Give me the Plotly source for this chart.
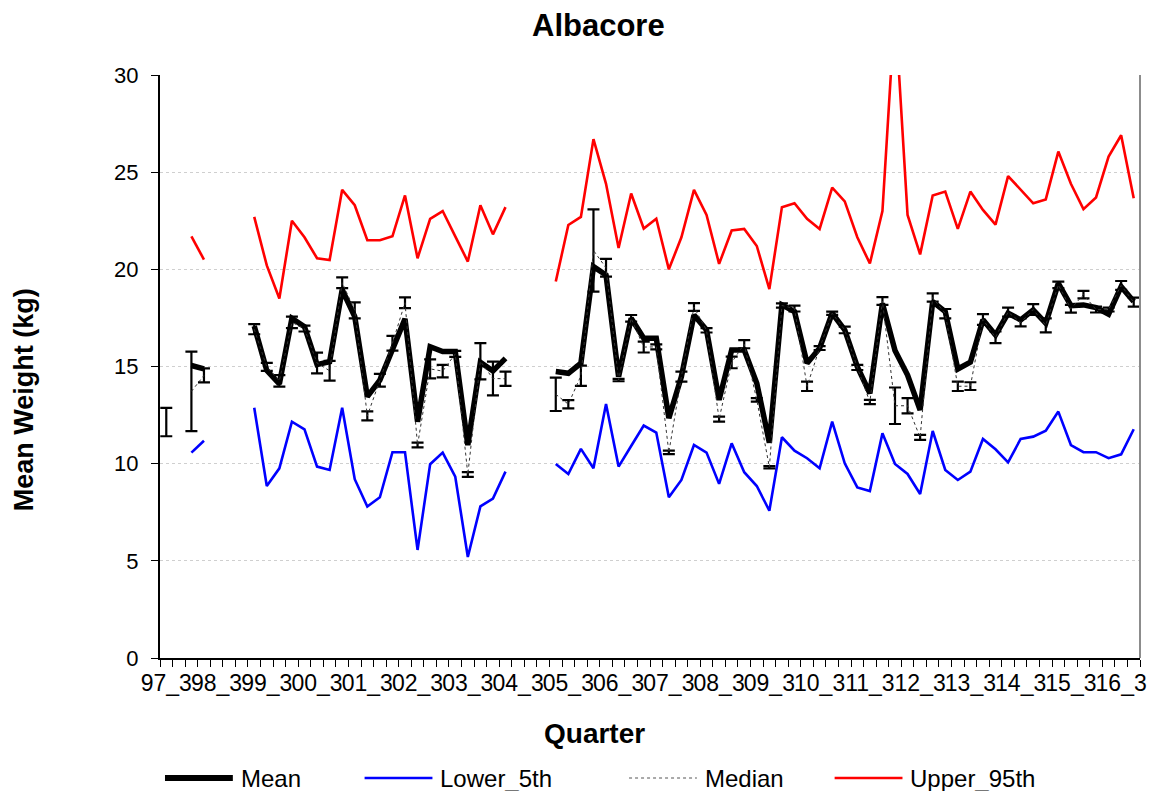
import plotly.graph_objects as go

# Quarterly categories, 1997 Q3 .. 2016 Q4
quarters = [
    "1997_3", "1997_4",
    "1998_1", "1998_2", "1998_3", "1998_4",
    "1999_1", "1999_2", "1999_3", "1999_4",
    "2000_1", "2000_2", "2000_3", "2000_4",
    "2001_1", "2001_2", "2001_3", "2001_4",
    "2002_1", "2002_2", "2002_3", "2002_4",
    "2003_1", "2003_2", "2003_3", "2003_4",
    "2004_1", "2004_2", "2004_3", "2004_4",
    "2005_1", "2005_2", "2005_3", "2005_4",
    "2006_1", "2006_2", "2006_3", "2006_4",
    "2007_1", "2007_2", "2007_3", "2007_4",
    "2008_1", "2008_2", "2008_3", "2008_4",
    "2009_1", "2009_2", "2009_3", "2009_4",
    "2010_1", "2010_2", "2010_3", "2010_4",
    "2011_1", "2011_2", "2011_3", "2011_4",
    "2012_1", "2012_2", "2012_3", "2012_4",
    "2013_1", "2013_2", "2013_3", "2013_4",
    "2014_1", "2014_2", "2014_3", "2014_4",
    "2015_1", "2015_2", "2015_3", "2015_4",
    "2016_1", "2016_2", "2016_3", "2016_4",
]

# Axis labels shown for each third quarter
tick_quarters = ["1997_3", "1998_3", "1999_3", "2000_3", "2001_3", "2002_3", "2003_3",
                 "2004_3", "2005_3", "2006_3", "2007_3", "2008_3", "2009_3", "2010_3",
                 "2011_3", "2012_3", "2013_3", "2014_3", "2015_3", "2016_3"]
tick_labels = ["97_3", "98_3", "99_3", "00_3", "01_3", "02_3", "03_3",
               "04_3", "05_3", "06_3", "07_3", "08_3", "09_3", "10_3",
               "11_3", "12_3", "13_3", "14_3", "15_3", "16_3"]

N = None

mean_kg = [
    N, N, 15.05, 14.88, N, N, N, 17.08, 14.8, 14.1,
    17.48, 17.05, 15.1, 15.25, 18.95, 17.57, 13.45, 14.3, 15.85, 17.45,
    12.16, 16.02, 15.77, 15.77, 10.96, 15.22, 14.77, 15.42, N, N,
    N, 14.74, 14.65, 15.17, 20.14, 19.71, 14.48, 17.48, 16.45, 16.45,
    12.34, 14.48, 17.65, 16.88, 13.28, 15.85, 15.85, 14.14, 11.08, 18.17,
    17.82, 15.17, 15.94, 17.74, 16.88, 14.99, 13.62, 18.25, 15.82, 14.56,
    12.76, 18.34, 17.82, 14.87, 15.22, 17.4, 16.62, 17.74, 17.4, 17.91,
    17.23, 19.28, 18.13, 18.17, 18.03, 17.69, 19.11, 18.34,
]

median_kg = [
    12.14, N, 13.72, 14.54, N, N, N, 16.92, 14.98, 14.26,
    17.27, 16.95, 15.18, 14.78, 19.31, 17.89, 12.46, 14.29, 16.2, 18.28,
    10.96, 14.88, 14.76, 15.65, 9.44, 15.27, 14.38, 14.37, N, N,
    N, 13.57, 13.06, 14.52, 20.97, 20.08, 14.3, 17.48, 16.0, 16.01,
    10.58, 14.48, 18.06, 16.86, 12.29, 15.21, 16.15, 13.28, 9.82, 18.14,
    17.98, 13.98, 15.95, 17.74, 16.88, 14.95, 13.17, 18.37, 12.98, 12.98,
    11.35, 18.55, 17.72, 13.98, 13.99, 17.42, 16.5, 17.8, 17.27, 17.93,
    17.12, 19.2, 17.97, 18.7, 17.93, 17.93, 19.17, 18.31,
]

median_err = [
    0.73, N, 2.05, 0.36, N, N, N, 0.26, 0.21, 0.3,
    0.3, 0.15, 0.53, 0.51, 0.28, 0.41, 0.23, 0.33, 0.38, 0.28,
    0.12, 0.49, 0.32, 0.15, 0.12, 0.93, 0.87, 0.37, N, N,
    N, 0.86, 0.21, 0.52, 2.12, 0.46, 0.06, 0.17, 0.28, 0.13,
    0.09, 0.26, 0.2, 0.11, 0.13, 0.3, 0.21, 0.09, 0.06, 0.11,
    0.15, 0.24, 0.1, 0.08, 0.17, 0.13, 0.11, 0.2, 0.94, 0.39,
    0.13, 0.21, 0.24, 0.24, 0.2, 0.28, 0.3, 0.23, 0.21, 0.28,
    0.36, 0.17, 0.2, 0.19, 0.15, 0.1, 0.23, 0.23,
]

lower_5th = [
    N, N, 10.57, 11.18, N, N, N, 12.88, 8.85, 9.76,
    12.16, 11.77, 9.85, 9.68, 12.88, 9.2, 7.79, 8.27, 10.59, 10.59,
    5.56, 9.97, 10.57, 9.33, 5.2, 7.8, 8.2, 9.59, N, N,
    N, 9.98, 9.47, 10.76, 9.76, 13.07, 9.85, 10.91, 11.96, 11.6,
    8.27, 9.16, 10.96, 10.57, 8.96, 11.05, 9.56, 8.85, 7.58, 11.36,
    10.67, 10.28, 9.76, 12.16, 10.02, 8.78, 8.59, 11.56, 9.98, 9.47,
    8.44, 11.68, 9.68, 9.16, 9.59, 11.27, 10.74, 10.07, 11.27, 11.39,
    11.7, 12.68, 10.96, 10.59, 10.59, 10.28, 10.48, 11.77,
]

upper_95th = [
    N, N, 21.7, 20.5, N, N, N, 22.7, 20.2, 18.5,
    22.5, 21.65, 20.57, 20.48, 24.09, 23.3, 21.5, 21.5, 21.7, 23.8,
    20.57, 22.6, 23.0, 21.7, 20.4, 23.3, 21.8, 23.2, N, N,
    N, 19.37, 22.28, 22.7, 26.7, 24.4, 21.1, 23.9, 22.1, 22.6,
    20.0, 21.65, 24.09, 22.8, 20.28, 22.0, 22.08, 21.2, 18.98, 23.2,
    23.4, 22.6, 22.08, 24.2, 23.5, 21.65, 20.3, 23.0, 33.5, 22.8,
    20.77, 23.8, 24.0, 22.08, 24.0, 23.06, 22.3, 24.8, 24.1, 23.4,
    23.6, 26.06, 24.4, 23.1, 23.7, 25.8, 26.9, 23.66,
]

FONT = "Liberation Sans, Arial, sans-serif"

fig = go.Figure()

fig.add_trace(go.Scatter(x=quarters, y=lower_5th, mode="lines", name="Lower_5th",
                         line=dict(color="#0000FF", width=2.6), showlegend=False))
fig.add_trace(go.Scatter(x=quarters, y=upper_95th, mode="lines", name="Upper_95th",
                         line=dict(color="#FF0000", width=2.6), showlegend=False))
fig.add_trace(go.Scatter(x=quarters, y=mean_kg, mode="lines", name="Mean",
                         line=dict(color="#000000", width=5.5), showlegend=False))
fig.add_trace(go.Scatter(
    x=quarters, y=median_kg, mode="lines", name="Median",
    line=dict(color="#333333", width=1, dash="dot"), showlegend=False,
    error_y=dict(type="data", array=median_err, symmetric=True,
                 color="#000000", thickness=2.2, width=6),
))

# Axis tick labels only on the third quarter of each year
tickvals = quarters
ticktext = [tick_labels[tick_quarters.index(q)] if q in tick_quarters else "" for q in quarters]

L, R, T, B = 160, 17, 75, 133
W, H = 1159, 791
PW, PH = W - L - R, H - T - B


def px_x(px):
    return (px - L) / PW


def px_y(py):
    return (H - B - py) / PH


fig.update_layout(
    width=W, height=H,
    margin=dict(l=L, r=R, t=T, b=B),
    plot_bgcolor="white", paper_bgcolor="white",
    font=dict(family=FONT, color="black"),
    xaxis=dict(
        type="category", categoryorder="array", categoryarray=quarters,
        range=[-0.5, len(quarters) - 0.5],
        tickmode="array", tickvals=tickvals, ticktext=ticktext,
        tickson="boundaries", ticks="outside", ticklen=7, tickwidth=1.2,
        tickcolor="black", showline=True, linecolor="black", linewidth=2,
        showgrid=False, tickfont=dict(size=23, family=FONT), tickangle=0,
        ticklabelstandoff=3,
    ),
    yaxis=dict(
        range=[0, 30], dtick=5, tick0=0,
        ticks="outside", ticklen=7, tickwidth=1.2, tickcolor="black",
        showline=True, linecolor="black", linewidth=2,
        showgrid=True, gridcolor="#cfcfcf", griddash="dot", gridwidth=1,
        zeroline=False, tickfont=dict(size=22, family=FONT),
        ticklabelstandoff=8,
    ),
    showlegend=False,
)

# Right edge of the plot area
fig.add_shape(type="line", xref="paper", yref="paper", x0=1, x1=1, y0=0, y1=1,
              line=dict(color="#8c8c8c", width=2))

# Titles
fig.add_annotation(text="<b>Albacore</b>", xref="paper", yref="paper",
                   x=px_x(599), y=px_y(25), showarrow=False,
                   font=dict(size=31, family=FONT), xanchor="center", yanchor="middle")
fig.add_annotation(text="<b>Quarter</b>", xref="paper", yref="paper",
                   x=px_x(595), y=px_y(733), showarrow=False,
                   font=dict(size=28, family=FONT), xanchor="center", yanchor="middle")
fig.add_annotation(text="<b>Mean Weight (kg)</b>", xref="paper", yref="paper",
                   x=px_x(24), y=px_y(400), showarrow=False, textangle=-90,
                   font=dict(size=27, family=FONT), xanchor="center", yanchor="middle")

# Legend row
legend_items = [
    ("Mean", 165, dict(color="#000000", width=6)),
    ("Lower_5th", 365, dict(color="#0000FF", width=2.6)),
    ("Median", 630, dict(color="#555555", width=1, dash="dot")),
    ("Upper_95th", 836, dict(color="#FF0000", width=2.6)),
]
ly = 778
for name, x0, ln in legend_items:
    fig.add_shape(type="line", xref="paper", yref="paper",
                  x0=px_x(x0), x1=px_x(x0 + 68), y0=px_y(ly), y1=px_y(ly), line=ln)
    fig.add_annotation(text=name, xref="paper", yref="paper",
                       x=px_x(x0 + 74), y=px_y(ly), showarrow=False,
                       font=dict(size=24, family=FONT), xanchor="left", yanchor="middle")

fig.write_html("out.html")
